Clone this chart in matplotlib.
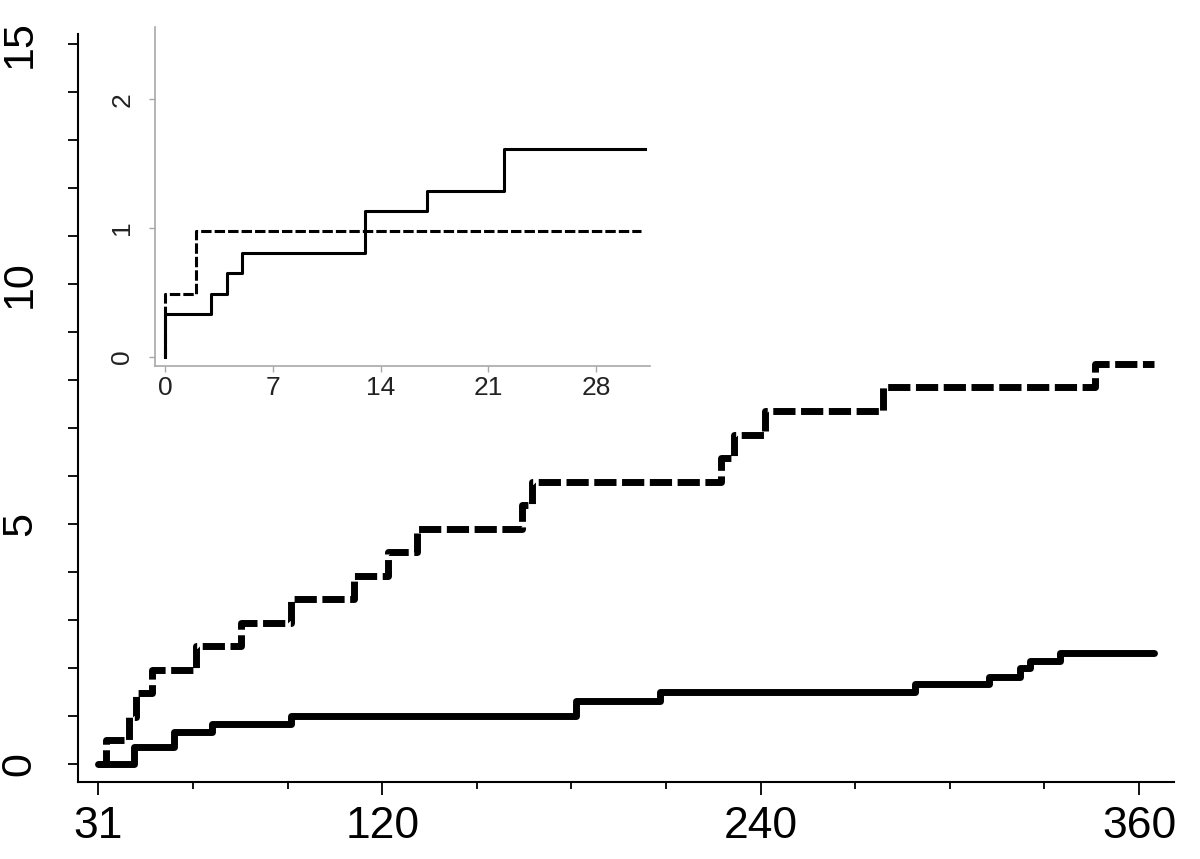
#!/usr/bin/env python3

import matplotlib
matplotlib.use('Agg')
import matplotlib.pyplot as plt
import matplotlib.ticker as mtick

plt.rcParams['font.family'] = ['Liberation Sans', 'DejaVu Sans']
plt.rcParams['lines.scale_dashes'] = False

# main panel, days 31..365 (step functions, value changes at x)
main_solid_x = [30, 41.3, 54, 66.1, 90.9, 181.4, 208, 289, 312.3, 322.3, 325.5, 335]
main_solid_y = [0, 0.35, 0.67, 0.83, 0.99, 1.32, 1.50, 1.66, 1.82, 1.99, 2.15, 2.31]
main_dash_x = [30, 32.4, 39.7, 42, 47.1, 60.8, 75.1, 91, 111, 121.8, 131.1,
               164.4, 167.5, 227.5, 231.7, 241.3, 278.8, 346]
main_dash_y = [0, 0.49, 0.98, 1.47, 1.96, 2.45, 2.94, 3.43, 3.92, 4.41, 4.90,
               5.39, 5.88, 6.37, 6.86, 7.35, 7.84, 8.33]
main_end = 364.8

# inset, days 0..31
inset_solid_x = [0, 0, 3, 4, 5, 13, 17, 22]
inset_solid_y = [0, 0.33, 0.49, 0.65, 0.81, 1.13, 1.29, 1.61]
inset_dash_x = [0, 0, 2]
inset_dash_y = [0, 0.49, 0.98]
inset_end = 31.2

main_xticks = [30, 120, 240, 360]
main_xticklabels = ['31', '120', '240', '360']
main_yticks = [0, 5, 10, 15]
inset_xticks = [0, 7, 14, 21, 28]
inset_yticks = [0, 1, 2]


def extend(xs, ys, x_end):
    return list(xs) + [x_end], list(ys) + [ys[-1]]


fig = plt.figure(figsize=(12, 8.59), dpi=100)

# ---- main axes
ax = fig.add_axes([78/1200, 77/859, 1096/1200, 748/859])
x, y = extend(main_dash_x, main_dash_y, main_end)
ax.step(x, y, where='post', color='black', lw=5, dashes=(16, 4),
        dash_capstyle='butt')
x, y = extend(main_solid_x, main_solid_y, main_end)
ax.step(x, y, where='post', color='black', lw=5, solid_capstyle='round')

ax.set_xlim(23.5, 371.1)
ax.set_ylim(-0.375, 15.2)
for s in ('top', 'right'):
    ax.spines[s].set_visible(False)
for s in ('left', 'bottom'):
    ax.spines[s].set_linewidth(1.5)

ax.set_xticks(main_xticks)
ax.set_xticklabels(main_xticklabels)
ax.xaxis.set_minor_locator(mtick.FixedLocator([60, 90, 150, 180, 210, 270, 300, 330]))
ax.set_yticks(main_yticks)
ax.set_yticklabels([str(v) for v in main_yticks], rotation=90, va='center')
ax.yaxis.set_minor_locator(mtick.MultipleLocator(1))

ax.tick_params(axis='x', which='major', length=9, width=1.3, labelsize=32, pad=8)
ax.tick_params(axis='x', which='minor', length=5, width=1.3)
ax.tick_params(axis='y', which='both', length=7.5, width=1.3, labelsize=31, pad=20)

# ---- inset
ins = fig.add_axes([155/1200, (859-366)/859, 495/1200, 339/859])
ins.patch.set_alpha(0)
x, y = extend(inset_dash_x, inset_dash_y, inset_end - 0.3)
ins.step(x, y, where='post', color='black', lw=2.2, dashes=(7.5, 2.2),
         dash_capstyle='butt')
x, y = extend(inset_solid_x, inset_solid_y, inset_end)
ins.step(x, y, where='post', color='black', lw=2.2)

ins.set_xlim(-0.65, 31.5)
ins.set_ylim(-0.07, 2.56)
for s in ('top', 'right'):
    ins.spines[s].set_visible(False)
for s in ('left', 'bottom'):
    ins.spines[s].set_color('#a8a8a8')
    ins.spines[s].set_linewidth(1.2)
ins.set_xticks(inset_xticks)
ins.set_yticks(inset_yticks)
ins.set_yticklabels([str(v) for v in inset_yticks], rotation=90, va='center')
ins.tick_params(axis='both', length=4, width=1, color='#a8a8a8',
                labelsize=19, labelcolor='#222222', pad=3)
ins.tick_params(axis='y', pad=11)

fig.savefig('out.png', dpi=100)
